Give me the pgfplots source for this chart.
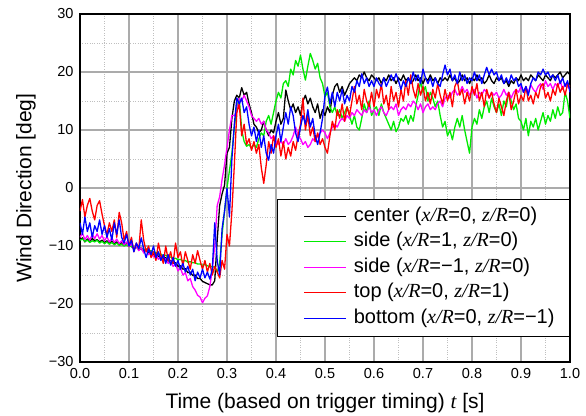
\documentclass[border=0pt]{standalone}
\usepackage{pgfplots}
\usepackage{pgfplotstable}
\pgfplotsset{compat=1.18}
\usepackage{fontspec}
\setmainfont{Liberation Sans}
\newfontfamily\serif{Liberation Serif}
\newcommand{\iv}[1]{{\serif\itshape #1}}
\definecolor{cgreen}{RGB}{0,235,0}
\definecolor{cmag}{RGB}{255,0,255}
\definecolor{cred}{RGB}{255,0,0}
\definecolor{cblue}{RGB}{0,0,255}
\pgfplotstableread{
t c g m r b
0.000 -9.0 -9.0 -8.5 -4.0 -6.0
0.005 -8.6 -8.8 -7.8 -2.0 -8.0
0.010 -9.3 -9.2 -8.9 -5.0 -5.0
0.015 -8.8 -9.0 -8.2 -3.0 -7.5
0.020 -9.2 -9.4 -9.0 -1.8 -6.0
0.025 -8.7 -9.1 -8.0 -4.0 -8.5
0.030 -9.1 -9.3 -8.7 -5.5 -6.5
0.035 -8.9 -9.0 -7.9 -3.0 -7.5
0.040 -9.3 -9.5 -8.8 -2.2 -5.5
0.045 -9.0 -9.2 -8.2 -4.5 -8.0
0.050 -9.4 -9.6 -9.1 -6.5 -6.5
0.055 -9.1 -9.3 -8.4 -8.0 -8.5
0.060 -9.5 -9.7 -9.3 -6.0 -7.0
0.065 -9.2 -9.4 -8.6 -7.5 -9.0
0.070 -9.6 -9.8 -9.4 -5.5 -6.0
0.075 -9.3 -9.5 -8.8 -8.5 -8.0
0.080 -9.7 -9.9 -9.6 -4.2 -5.5
0.085 -9.4 -9.7 -9.1 -6.0 -8.5
0.090 -9.8 -10.0 -9.8 -9.0 -9.5
0.095 -9.5 -9.8 -9.3 -7.5 -8.0
0.100 -9.9 -10.1 -10.1 -10.0 -10.0
0.105 -10.1 -10.0 -9.6 -8.5 -9.0
0.110 -10.4 -10.3 -10.5 -11.0 -11.0
0.115 -10.2 -10.2 -10.0 -9.5 -9.5
0.120 -10.6 -10.4 -10.8 -10.5 -10.5
0.125 -10.5 -10.3 -10.3 -5.5 -8.6
0.130 -10.9 -10.6 -11.2 -9.0 -10.5
0.135 -10.7 -10.5 -10.7 -11.0 -12.0
0.140 -11.2 -10.9 -11.5 -10.0 -10.5
0.145 -11.0 -10.8 -11.0 -12.0 -11.5
0.150 -11.5 -11.2 -11.9 -11.0 -10.0
0.155 -11.3 -11.1 -11.4 -12.5 -12.0
0.160 -11.8 -11.4 -12.3 -9.5 -11.0
0.165 -11.7 -11.4 -11.8 -11.5 -12.5
0.170 -12.2 -11.7 -12.6 -13.0 -11.5
0.175 -12.0 -11.6 -12.2 -10.0 -13.0
0.180 -12.6 -11.9 -13.0 -12.5 -11.5
0.185 -12.5 -11.9 -12.6 -11.0 -13.3
0.190 -13.0 -12.2 -13.5 -13.0 -12.0
0.195 -12.9 -12.1 -13.1 -9.5 -13.5
0.200 -13.5 -12.4 -14.3 -12.0 -12.5
0.205 -13.4 -12.3 -13.8 -11.0 -14.0
0.210 -14.0 -12.6 -15.0 -13.5 -13.0
0.215 -13.9 -12.5 -14.6 -11.0 -14.5
0.220 -14.6 -12.8 -16.0 -12.5 -13.5
0.225 -14.5 -12.7 -15.6 -14.0 -15.0
0.230 -15.1 -12.9 -17.0 -11.5 -14.0
0.235 -15.0 -12.9 -17.6 -13.0 -16.0
0.240 -15.6 -13.1 -18.5 -10.8 -14.5
0.245 -15.6 -13.1 -18.8 -12.5 -15.5
0.250 -16.1 -13.3 -19.8 -14.0 -14.0
0.255 -16.3 -13.2 -19.0 -12.5 -15.5
0.260 -16.5 -13.4 -18.6 -14.5 -14.5
0.265 -16.7 -13.6 -17.0 -13.0 -15.7
0.270 -16.7 -13.5 -14.0 -15.0 -14.0
0.275 -16.0 -13.7 -10.0 -13.5 -6.0
0.280 -9.0 -14.5 -3.0 -14.5 -12.5
0.285 -3.0 -13.0 -1.5 -15.5 -15.0
0.290 -1.0 -8.0 1.5 -12.5 -7.0
0.295 0.5 -4.0 4.0 -14.0 -4.0
0.300 6.0 0.0 7.0 -8.0 0.0
0.305 7.0 3.0 10.0 -10.0 -5.0
0.310 12.0 6.0 12.5 -4.0 5.0
0.315 15.0 10.5 12.5 4.0 11.0
0.320 16.0 14.0 13.0 13.0 15.5
0.325 15.5 15.5 15.5 14.5 14.5
0.330 17.3 10.0 15.0 9.0 15.5
0.335 16.0 8.0 16.0 11.0 13.0
0.340 16.5 7.2 15.0 7.5 14.0
0.345 14.5 7.5 14.0 8.5 11.0
0.350 13.0 6.8 12.5 6.5 9.0
0.355 11.0 7.5 12.0 8.0 10.5
0.360 10.5 7.0 11.5 6.0 8.0
0.365 9.5 8.5 12.0 7.5 10.0
0.370 10.0 9.5 11.0 3.5 7.0
0.375 11.5 9.0 11.5 0.8 9.0
0.380 10.0 11.5 10.0 4.0 6.0
0.385 9.0 12.5 9.5 8.0 4.8
0.390 10.0 11.0 8.5 6.0 7.5
0.395 9.5 13.0 9.0 9.0 6.0
0.400 11.5 15.0 8.0 7.0 9.0
0.405 13.0 16.5 7.5 8.5 11.0
0.410 11.0 15.5 8.0 5.5 8.0
0.415 12.0 18.0 7.5 8.0 10.5
0.420 16.9 18.5 8.5 5.0 13.0
0.425 15.0 17.5 7.5 7.0 11.0
0.430 13.5 20.5 8.0 5.5 14.0
0.435 14.5 19.5 9.0 8.0 12.5
0.440 13.0 22.0 10.5 6.5 9.5
0.445 14.0 21.0 9.0 9.0 8.0
0.450 12.5 22.9 8.5 11.0 10.5
0.455 15.0 20.5 7.5 15.5 12.5
0.460 16.0 18.6 8.0 10.0 11.0
0.465 14.5 21.0 7.0 12.5 13.5
0.470 15.5 23.2 7.5 9.0 10.5
0.475 14.0 22.0 8.5 10.5 12.0
0.480 13.0 20.5 8.0 8.0 9.0
0.485 14.5 21.5 9.0 9.5 7.5
0.490 12.0 19.0 9.5 7.5 9.5
0.495 13.5 18.0 10.0 8.5 12.0
0.500 12.5 15.7 9.5 7.0 16.0
0.505 14.0 16.5 8.5 6.0 17.4
0.510 13.0 14.0 9.5 9.0 14.5
0.515 16.0 13.0 10.5 11.5 16.5
0.520 17.5 14.0 11.0 10.0 14.0
0.525 18.0 12.5 10.5 13.5 16.5
0.530 16.5 13.5 11.5 12.0 15.0
0.535 17.5 12.0 12.0 14.5 17.0
0.540 16.0 13.0 11.5 11.5 14.5
0.545 17.0 14.0 12.5 14.0 16.0
0.550 18.0 12.5 12.0 12.5 15.0
0.555 18.5 11.0 13.0 15.0 17.5
0.560 19.0 12.5 12.5 17.5 16.5
0.565 18.5 10.5 13.5 14.5 18.5
0.570 19.5 10.0 13.0 16.0 17.5
0.575 19.0 12.0 12.5 13.5 19.7
0.580 20.0 14.5 13.5 17.0 18.0
0.585 19.0 13.0 13.0 15.0 19.0
0.590 18.5 15.0 14.0 14.0 17.5
0.595 19.5 12.5 13.0 16.5 18.5
0.600 19.0 13.5 13.5 14.0 17.5
0.605 18.5 14.0 12.5 17.0 19.0
0.610 19.0 12.5 13.5 15.5 18.0
0.615 18.0 14.5 14.0 18.0 17.5
0.620 19.0 13.0 13.0 14.5 19.0
0.625 18.5 12.0 12.5 16.0 17.5
0.630 19.5 11.0 13.5 13.5 18.5
0.635 18.5 10.0 14.0 17.5 19.5
0.640 19.0 11.5 13.5 15.0 18.5
0.645 18.0 9.7 14.5 16.5 19.7
0.650 19.0 10.5 12.5 14.0 18.5
0.655 18.5 12.0 13.5 17.0 17.0
0.660 19.5 11.5 14.0 15.0 18.5
0.665 18.5 12.5 13.5 18.5 17.5
0.670 19.0 11.0 14.5 16.0 19.0
0.675 18.0 12.5 14.0 19.5 18.0
0.680 18.5 11.5 15.0 17.0 20.0
0.685 19.5 14.0 14.5 15.5 18.5
0.690 18.5 16.0 13.5 18.0 19.5
0.695 19.0 18.4 14.5 16.0 18.0
0.700 18.0 16.5 13.0 17.5 20.5
0.705 19.0 17.5 14.0 15.0 19.0
0.710 18.5 15.0 14.5 16.5 18.0
0.715 19.5 16.5 13.5 14.5 19.0
0.720 18.5 15.5 14.0 17.0 17.5
0.725 19.0 14.0 13.5 15.5 19.0
0.730 18.0 15.0 14.5 18.0 18.0
0.735 19.0 12.5 15.0 16.0 17.5
0.740 18.5 10.5 14.0 14.5 19.5
0.745 19.0 11.5 15.5 17.0 21.2
0.750 18.5 9.0 16.0 15.0 19.5
0.755 19.5 10.0 15.5 16.5 20.5
0.760 18.5 8.3 16.5 14.0 18.5
0.765 19.0 10.5 17.0 17.5 19.5
0.770 18.0 12.0 16.0 18.5 18.0
0.775 18.5 10.5 16.5 16.0 20.0
0.780 19.5 12.5 17.5 17.0 18.5
0.785 18.5 10.0 16.5 14.5 19.5
0.790 19.0 8.0 17.0 16.5 18.0
0.795 18.0 6.0 16.0 15.0 19.0
0.800 19.0 10.5 16.5 17.5 18.5
0.805 18.5 12.0 17.0 16.0 20.0
0.810 19.5 11.0 15.5 18.0 18.5
0.815 18.5 13.5 16.5 15.0 19.5
0.820 19.0 12.0 16.0 16.5 18.0
0.825 18.0 14.0 17.0 14.0 19.5
0.830 18.5 15.0 16.5 17.0 20.8
0.835 19.5 13.0 15.5 15.5 19.5
0.840 18.5 15.5 16.5 16.5 20.5
0.845 18.0 14.0 16.0 14.5 19.5
0.850 19.0 13.0 16.5 13.0 20.0
0.855 18.5 14.5 15.5 15.5 18.5
0.860 19.0 12.5 16.0 14.0 19.5
0.865 18.0 15.0 17.0 12.5 18.0
0.870 18.5 14.0 16.0 15.0 19.0
0.875 17.5 16.5 16.5 16.5 18.0
0.880 18.5 15.0 15.5 13.5 19.5
0.885 18.0 13.5 16.5 15.0 18.5
0.890 19.0 14.5 17.0 17.0 19.0
0.895 18.5 12.0 16.5 14.5 17.5
0.900 19.5 11.5 17.5 16.0 18.0
0.905 18.5 10.0 16.5 15.0 16.5
0.910 19.0 12.0 17.5 17.5 17.5
0.915 18.5 9.0 16.5 15.0 16.0
0.920 19.5 11.5 17.8 16.0 18.0
0.925 19.0 10.5 17.0 14.5 19.0
0.930 18.5 12.0 16.5 16.5 18.5
0.935 19.5 10.0 17.5 15.5 20.0
0.940 19.0 11.5 18.0 17.5 19.5
0.945 18.5 13.0 17.0 18.0 20.5
0.950 19.5 11.0 18.5 15.5 19.5
0.955 19.0 12.5 17.5 16.5 20.0
0.960 18.5 11.5 18.0 15.0 19.0
0.965 19.5 13.5 17.0 17.0 19.5
0.970 19.0 12.0 18.0 16.0 18.5
0.975 19.5 14.0 17.5 18.0 19.5
0.980 20.0 12.5 18.5 16.5 18.0
0.985 19.0 13.0 17.0 17.5 19.0
0.990 19.5 16.5 18.0 16.0 17.5
0.995 20.0 15.0 17.5 18.0 18.5
1.000 19.5 12.0 17.0 17.5 16.5
}\data
\begin{document}
\begin{tikzpicture}
\begin{axis}[
  width=490pt, height=348pt, scale only axis,
  xmin=0, xmax=1, ymin=-30, ymax=30,
  xtick={0,0.1,0.2,0.3,0.4,0.5,0.6,0.7,0.8,0.9,1},
  xticklabels={0.0,0.1,0.2,0.3,0.4,0.5,0.6,0.7,0.8,0.9,1.0},
  minor xtick={0.05,0.15,0.25,0.35,0.45,0.55,0.65,0.75,0.85,0.95},
  ytick={-30,-20,-10,0,10,20,30},
  yticklabels={−30,−20,−10,0,10,20,30},
  minor ytick={-25,-15,-5,5,15,25},
  grid=both,
  major grid style={draw=black!33, line width=1.3pt},
  minor grid style={draw=black!25, dotted, line width=0.8pt},
  major tick length=0pt, minor tick length=0pt,
  axis line style={line width=1.3pt},
  tick label style={font=\fontsize{14.5}{16}\selectfont},
  xticklabel style={yshift=-3pt},
  yticklabel style={xshift=-3pt},
  xlabel={Time (based on trigger timing) \iv{t} [s]},
  ylabel={Wind Direction [deg]},
  label style={font=\fontsize{21}{24}\selectfont},
  xlabel style={at={(axis description cs:0.5,0)}, anchor=base, yshift=-47pt},
  ylabel style={at={(axis description cs:0,0.5)}, anchor=center, xshift=0pt, yshift=54pt},
  every axis plot/.append style={line width=1.3pt, line join=round},
  legend cell align=left,
  legend image code/.code={\path (-11pt,0pt); \draw[#1, line width=1.2pt] (0pt,0.5pt) -- (42pt,0.5pt);},
  legend style={at={(axis description cs:1,0.0718)}, anchor=south east,
    draw=black, line width=1pt, fill=white,
    inner xsep=15pt, inner ysep=5pt,
    font=\fontsize{20}{22}\selectfont,
    nodes={inner xsep=0pt, inner ysep=3.25pt, text height=14pt, text depth=5pt},
    /tikz/every odd column/.append style={column sep=7pt}},
]
\addplot[black] table[x=t,y=c]{\data};
\addlegendentry{center (\iv{x/R}=0, \iv{z/R}=0)}
\addplot[cgreen] table[x=t,y=g]{\data};
\addlegendentry{side (\iv{x/R}=1, \iv{z/R}=0)}
\addplot[cmag] table[x=t,y=m]{\data};
\addlegendentry{side (\iv{x/R}=−1, \iv{z/R}=0)}
\addplot[cred] table[x=t,y=r]{\data};
\addlegendentry{top (\iv{x/R}=0, \iv{z/R}=1)}
\addplot[cblue] table[x=t,y=b]{\data};
\addlegendentry{bottom (\iv{x/R}=0, \iv{z/R}=−1)}
\coordinate (SW) at (rel axis cs:0,0);
\coordinate (NE) at (rel axis cs:1,1);
\end{axis}
\pgfresetboundingbox
\path ([shift={(-80pt,-54pt)}]SW) rectangle ([shift={(16pt,14pt)}]NE);
\end{tikzpicture}
\end{document}
